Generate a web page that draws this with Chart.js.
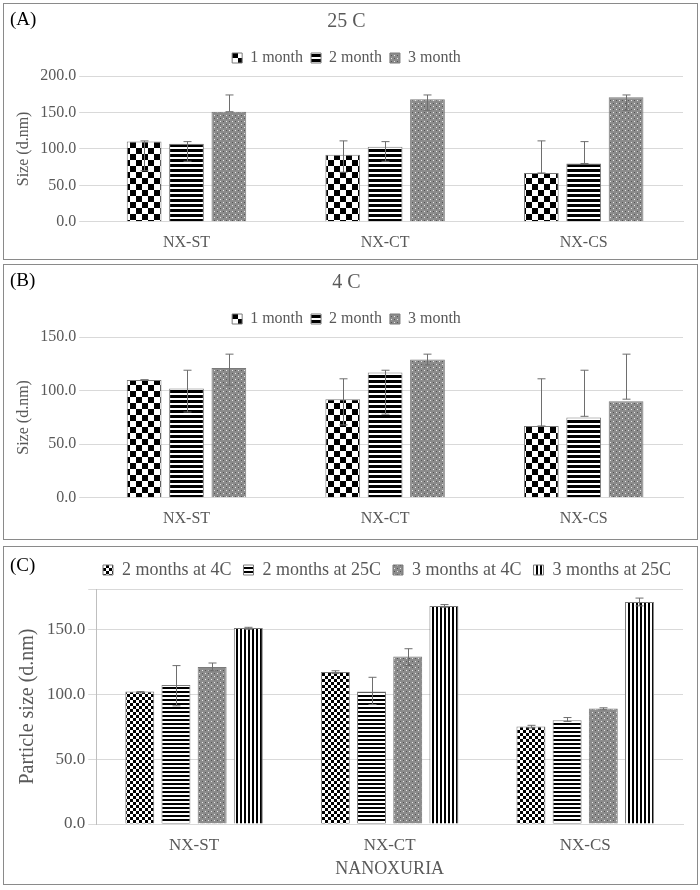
<!DOCTYPE html>
<html><head><meta charset="utf-8">
<script src="https://cdn.jsdelivr.net/npm/chart.js@4"></script>
<style>
body{margin:0;background:#fff;font-family:"Liberation Serif",serif;}
.box{position:absolute;border:1px solid #8a8a8a;background:#fff;}
.lab{position:absolute;font-size:19px;color:#000;font-family:"Liberation Serif",serif;}
canvas{position:absolute;left:0;top:0;}
</style></head><body>
<div class="box" style="left:3px;top:3px;width:693px;height:255px"><canvas id="cA"></canvas><div class="lab" style="left:6px;top:4px">(A)</div></div>
<div class="box" style="left:3px;top:264px;width:693px;height:274px"><canvas id="cB"></canvas><div class="lab" style="left:6px;top:4px">(B)</div></div>
<div class="box" style="left:3px;top:546px;width:693px;height:337px"><canvas id="cC"></canvas><div class="lab" style="left:6px;top:7px">(C)</div></div>
<script>
const categories = ["NX-ST","NX-CT","NX-CS"];
// Panel A: 25 C
const a1 = [110, 92, 67],  a1Lo = [70, 68, 67],  a1Hi = [111, 111, 111];
const a2 = [107, 103, 80], a2Lo = [83, 83, 80],  a2Hi = [110, 110, 110];
const a3 = [151, 168, 171],a3Lo = [151, 153, 153],a3Hi = [174, 174, 174];
// Panel B: 4 C
const b1 = [110, 92, 67],  b1Lo = [110, 68, 67], b1Hi = [110, 111, 111];
const b2 = [102, 117, 75], b2Lo = [80, 78, 76],  b2Hi = [119, 119, 119];
const b3 = [121, 129, 90], b3Lo = [105, 124, 92],b3Hi = [134, 134, 134];
// Panel C
const c1 = [102, 117, 75], c1Lo = [101, 116, 74], c1Hi = [102, 118, 76];
const c2 = [107, 102, 80], c2Lo = [91, 92, 79],   c2Hi = [122, 113, 82];
const c3 = [121, 129, 89], c3Lo = [118, 122, 88], c3Hi = [124, 135, 89.5];
const c4 = [151, 168, 171],c4Lo = [150, 167, 168],c4Hi = [151.5, 169, 174];

function pat(kind){
  const c=document.createElement('canvas'); const x=c.getContext('2d');
  if(kind==='check'){c.width=c.height=12;x.fillStyle='#fff';x.fillRect(0,0,12,12);x.fillStyle='#000';x.fillRect(0,0,6,6);x.fillRect(6,6,6,6);}
  if(kind==='checkS'){c.width=c.height=6;x.fillStyle='#fff';x.fillRect(0,0,6,6);x.fillStyle='#000';x.fillRect(0,0,3,3);x.fillRect(3,3,3,3);}
  if(kind==='hstripe'){c.width=4;c.height=5;x.fillStyle='#fff';x.fillRect(0,0,4,5);x.fillStyle='#000';x.fillRect(0,0,4,3);}
  if(kind==='hstripeS'){c.width=4;c.height=4;x.fillStyle='#fff';x.fillRect(0,0,4,4);x.fillStyle='#000';x.fillRect(0,0,4,2);}
  if(kind==='dots'){c.width=c.height=6;x.fillStyle='#8c8c8c';x.fillRect(0,0,6,6);x.fillStyle='#555';x.fillRect(0,0,1,1);x.fillRect(3,3,1,1);x.fillStyle='#e8e8e8';x.fillRect(3,0,1,1);x.fillRect(0,3,1,1);}
  if(kind==='vstripe'){c.width=4;c.height=4;x.fillStyle='#fff';x.fillRect(0,0,4,4);x.fillStyle='#000';x.fillRect(0,0,2,4);}
  return x.createPattern(c,'repeat');
}
const errPlugin={id:'err',afterDatasetsDraw(ch){
  const ctx=ch.ctx,ys=ch.scales.y;ctx.save();ctx.strokeStyle='#6e6e6e';ctx.lineWidth=1;
  ch.data.datasets.forEach((ds,di)=>{const m=ch.getDatasetMeta(di);m.data.forEach((b,i)=>{
    const x=Math.round(b.x)+0.5,yl=ys.getPixelForValue(ds.lo[i]),yh=ys.getPixelForValue(ds.hi[i]);
    ctx.beginPath();ctx.moveTo(x,yl);ctx.lineTo(x,yh);ctx.moveTo(x-4,yh);ctx.lineTo(x+4,yh);ctx.moveTo(x-4,yl);ctx.lineTo(x+4,yl);ctx.stroke();});});
  ctx.restore();}};
const grey='#595959',F="'Liberation Serif', serif";
function make(id,w,h,dsets,o){
  const cv=document.getElementById(id);cv.width=w;cv.height=h;cv.style.width=w+'px';cv.style.height=h+'px';
  return new Chart(cv,{type:'bar',data:{labels:categories,datasets:dsets.map(d=>({label:d[0],data:d[1],lo:d[2],hi:d[3],backgroundColor:d[4],borderColor:'#7a7a7a',borderWidth:1,barPercentage:o.bp,categoryPercentage:o.cp}))},
  options:{responsive:false,animation:false,layout:{padding:o.pad},
   plugins:{title:{display:!!o.title,text:o.title,color:grey,font:{family:F,size:20,weight:'normal'},padding:{top:6,bottom:8}},
    legend:{position:'top',align:o.lalign||'center',labels:{color:grey,font:{family:F,size:o.lfs||16},boxWidth:10,boxHeight:10,padding:o.lpad||8}},tooltip:{enabled:false}},
   scales:{x:{grid:{display:false},border:{color:'#d9d9d9'},ticks:{color:grey,font:{family:F,size:o.xfs||16}},title:{display:!!o.xt,text:o.xt,color:grey,font:{family:F,size:18},padding:0}},
    y:{min:0,max:o.max,grid:{color:'#d9d9d9'},border:{display:o.yb,color:'#bfbfbf'},ticks:{stepSize:50,color:grey,font:{family:F,size:o.yfs||16},callback:v=>v<=o.lastTick?v.toFixed(1):''},
     title:{display:true,text:o.yt,color:grey,font:{family:F,size:o.ytfs||16}}}}},plugins:[errPlugin]});
}
make('cA',693,255,[["1 month",a1,a1Lo,a1Hi,pat('check')],["2 month",a2,a2Lo,a2Hi,pat('hstripe')],["3 month",a3,a3Lo,a3Hi,pat('dots')]],
 {title:"25 C",max:200,lastTick:200,yt:"Size (d.nm)",bp:0.82,cp:0.64,pad:{left:6,right:14,bottom:4},yb:false});
make('cB',693,274,[["1 month",b1,b1Lo,b1Hi,pat('check')],["2 month",b2,b2Lo,b2Hi,pat('hstripe')],["3 month",b3,b3Lo,b3Hi,pat('dots')]],
 {title:"4 C",max:150,lastTick:150,yt:"Size (d.nm)",bp:0.82,cp:0.64,pad:{left:6,right:14,bottom:8},yb:false});
make('cC',693,337,[["2 months at 4C",c1,c1Lo,c1Hi,pat('checkS')],["2 months at 25C",c2,c2Lo,c2Hi,pat('hstripeS')],["3 months at 4C",c3,c3Lo,c3Hi,pat('dots')],["3 months at 25C",c4,c4Lo,c4Hi,pat('vstripe')]],
 {max:181,lastTick:150,yt:"Particle size (d.nm)",ytfs:20,yfs:17,xfs:17,lfs:18,lpad:12,xt:"NANOXURIA",bp:0.8,cp:0.74,pad:{left:8,right:14,bottom:4,top:2},yb:true,lalign:'end'});
</script></body></html>
